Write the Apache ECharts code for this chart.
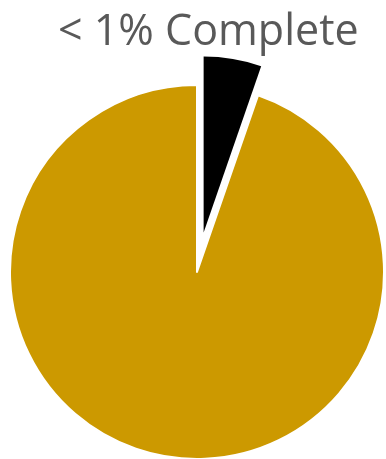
<!DOCTYPE html>
<html>
<head>
<meta charset="utf-8">
<script src="https://cdn.jsdelivr.net/npm/echarts@6/dist/echarts.min.js"></script>
<style>
  html, body { margin: 0; padding: 0; background: #fff; }
  #chart { width: 386px; height: 459px; }
</style>
</head>
<body>
<div id="chart"></div>
<script>
// progress data
var titleText = '< 1% Complete';
var sliceNames = ['Complete', 'Remaining'];
var sliceValues = [5.3, 94.7];

var chart = echarts.init(document.getElementById('chart'));

var option = {
    animation: false,
    title: {
        text: titleText,
        left: 53,
        top: 6,
        textStyle: {
            fontFamily: 'Open Sans',
            fontSize: 43,
            fontWeight: 'normal',
            color: '#595959'
        }
    },
    series: [
        {
            // gold part
            type: 'pie',
            center: [197, 272],
            radius: [0, 187],
            startAngle: 90,
            clockwise: true,
            silent: true,
            label: { show: false },
            labelLine: { show: false },
            data: [
                { name: sliceNames[0], value: sliceValues[0], itemStyle: { color: 'rgba(0,0,0,0)' } },
                { name: sliceNames[1], value: sliceValues[1], itemStyle: { color: '#CC9900', borderColor: '#fff', borderWidth: 2 } }
            ]
        },
        {
            // exploded black slice
            type: 'pie',
            center: [197, 272],
            radius: [0, 176],
            startAngle: 90,
            clockwise: true,
            silent: true,
            selectedMode: 'single',
            selectedOffset: 40,
            label: { show: false },
            labelLine: { show: false },
            data: [
                { name: sliceNames[0], value: sliceValues[0], selected: true, itemStyle: { color: '#000' } },
                { name: sliceNames[1], value: sliceValues[1], itemStyle: { color: 'rgba(0,0,0,0)' } }
            ]
        }
    ]
};

chart.setOption(option);
</script>
</body>
</html>
